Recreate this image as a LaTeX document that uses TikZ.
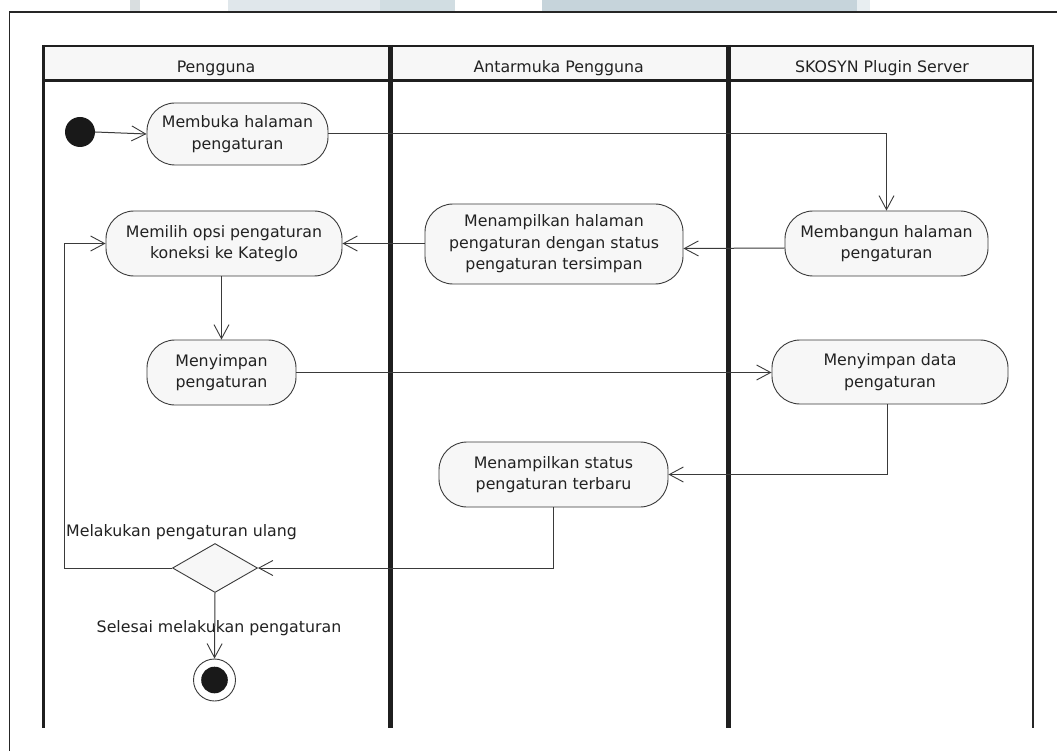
\documentclass[tikz,border=0pt]{standalone}
\usepackage{fontspec}
\setmainfont{DejaVu Sans}
\usetikzlibrary{arrows.meta,shapes.geometric}
\definecolor{ink}{HTML}{222222}
\definecolor{edge}{HTML}{3A3A3A}
\definecolor{actfill}{HTML}{F7F7F7}
\definecolor{wmblue}{HTML}{C6D4DB}
\definecolor{wmgrey}{HTML}{D9DEE0}
\begin{document}
\begin{tikzpicture}[x=1pt,y=-1pt,
  font=\fontsize{15.8}{21.5}\selectfont,
  act/.style={draw=edge, fill=actfill, line width=0.9pt, rounded corners=28pt,
    align=center, inner sep=0pt, text=ink},
  flow/.style={draw=edge, line width=1pt,
    -{Straight Barb[length=14pt,width=15pt,line width=0.9pt]}},
  lnk/.style={draw=edge, line width=1pt},
  lanebar/.style={draw=black!88, line width=5pt},
  hdr/.style={anchor=base, text=ink},
  lbl/.style={text=ink, inner sep=0pt}
]
\useasboundingbox (0,0) rectangle (1057,751);
\fill[white] (0,0) rectangle (1057,751);
% faint watermark strip at the top
\fill[wmgrey] (130,0) rectangle (140,12);
\fill[wmblue!55] (228,0) rectangle (380,12);
\fill[wmblue!80] (380,0) rectangle (455,12);
\fill[wmblue] (542,0) rectangle (857,12);
\fill[wmblue!40] (857,0) rectangle (870,12);
% outer frame
\draw[line width=1.5pt, black!85] (9.5,751) -- (9.5,12) -- (1057,12);
% swimlane header
\fill[actfill] (43,46) rectangle (1033,80.5);
\draw[line width=2.5pt, black!88] (43,46) -- (1033,46);
\draw[line width=2.5pt, black!88] (43,80.5) -- (1033,80.5);
\draw[line width=3pt, black!88] (43.5,45) -- (43.5,728);
\draw[lanebar] (390,45) -- (390,728);
\draw[lanebar] (728.7,45) -- (728.7,728);
\draw[line width=2.5pt, black!85] (1033,45) -- (1033,728);
\node[hdr] (h1) at (216,72.5) {Pengguna};
\node[hdr] (h2) at (558.7,72.5) {Antarmuka Pengguna};
\node[hdr] (h3) at (882,72.5) {SKOSYN Plugin Server};

% nodes
\node[circle, fill=black!90, minimum size=30pt, inner sep=0pt] (start) at (80,132) {};
\node[act, minimum width=181pt, minimum height=62pt] (n1) at (237.5,134) {Membuka halaman\\pengaturan};
\node[act, minimum width=236pt, minimum height=65pt] (n2) at (224,243.5) {Memilih opsi pengaturan\\koneksi ke Kateglo};
\node[act, minimum width=149pt, minimum height=65pt] (n3) at (221.5,372.5) {Menyimpan\\pengaturan};
\node[act, minimum width=258pt, minimum height=80pt] (n4) at (554,244) {Menampilkan halaman\\pengaturan dengan status\\pengaturan tersimpan};
\node[act, minimum width=203pt, minimum height=65pt] (n5) at (886.5,243.5) {Membangun halaman\\pengaturan};
\node[act, minimum width=236pt, minimum height=64pt] (n6) at (890,372) {Menyimpan data\\pengaturan};
\node[act, minimum width=229pt, minimum height=65pt] (n7) at (553.5,474.5) {Menampilkan status\\pengaturan terbaru};
\node[diamond, draw=edge, fill=actfill, line width=0.9pt, minimum width=85pt, minimum height=49pt, inner sep=0pt] (d) at (215,568) {};
\node[circle, draw=edge, line width=0.9pt, minimum size=42pt, inner sep=0pt] (end) at (214.5,680) {};
\fill[black!90] (end.center) circle (13.3pt);
\coordinate (lp) at (64.5,568);

% connectors
\draw[flow] (start.east) -- (n1.west);
\draw[flow] (n1.east) -| (n5.north);
\draw[flow] ([yshift=-4.5pt]n5.west) -- ([yshift=-4.5pt]n4.east);
\draw[flow] (n4.west |- n2.east) -- (n2.east);
\draw[flow] (n3.north |- n2.south) -- (n3.north);
\draw[flow] (n3.east) -- (n6.west |- n3.east);
\draw[flow] ([xshift=-3pt]n6.south) |- (n7.east);
\draw[flow] (n7.south) |- (d.east);
\draw[flow] (d.west) -- (lp) |- (n2.west);
\draw[flow] (d.south) -- (end.north);

% guard labels
\node[lbl, anchor=base west] (g1) at (66,536.7) {Melakukan pengaturan ulang};
\node[lbl, anchor=base] (g2) at (219,632.5) {Selesai melakukan pengaturan};
\end{tikzpicture}
\end{document}
